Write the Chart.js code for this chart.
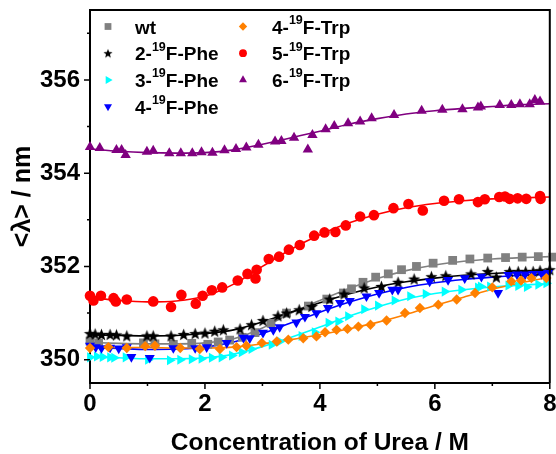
<!DOCTYPE html>
<html>
<head>
<meta charset="utf-8">
<script src="https://cdn.jsdelivr.net/npm/chart.js@4.4.1/dist/chart.umd.min.js"></script>
<style>
  html, body { margin: 0; padding: 0; background: #fff; }
  #wrap { width: 556px; height: 454px; }
</style>
</head>
<body>
<div id="wrap"><canvas id="chart" width="556" height="454"></canvas></div>
<script>
'use strict';

// ── Data ──────────────────────────────────────────────────
const xTicks = [0, 2, 4, 6, 8];
const yTicks = [350, 352, 354, 356];

const wtX = [0, 0.15, 0.93, 1.13, 1.45, 1.77, 2.05, 2.23, 2.43, 2.65, 2.87, 3.15, 3.42, 3.8, 4.12, 4.41, 4.55, 4.75, 4.97, 5.19, 5.42, 5.68, 5.97, 6.31, 6.61, 6.92, 7.23, 7.52, 7.8, 8.05];
const wtY = [350.40, 350.36, 350.36, 350.34, 350.33, 350.35, 350.33, 350.38, 350.42, 350.48, 350.58, 350.78, 351.0, 351.15, 351.30, 351.43, 351.52, 351.66, 351.77, 351.84, 351.93, 352.0, 352.07, 352.13, 352.16, 352.18, 352.19, 352.2, 352.21, 352.2];

const phe2X = [0, 0.09, 0.2, 0.35, 0.46, 0.64, 0.99, 1.1, 1.41, 1.63, 1.83, 2.0, 2.17, 2.32, 2.61, 2.81, 3.01, 3.27, 3.42, 3.64, 3.86, 4.17, 4.42, 4.77, 5.07, 5.36, 5.64, 5.94, 6.19, 6.63, 6.92, 7.07, 7.3, 7.45, 7.58, 7.71, 7.83, 8.0];
const phe2Y = [350.56, 350.55, 350.54, 350.54, 350.53, 350.51, 350.51, 350.51, 350.51, 350.54, 350.56, 350.57, 350.61, 350.64, 350.66, 350.75, 350.84, 350.94, 351.0, 351.07, 351.14, 351.3, 351.41, 351.54, 351.57, 351.66, 351.73, 351.78, 351.8, 351.84, 351.89, 351.77, 351.89, 351.89, 351.89, 351.89, 351.91, 351.93];

const phe3X = [0, 0.12, 0.22, 0.35, 0.42, 0.62, 1.01, 1.39, 1.57, 1.77, 1.94, 2.12, 2.29, 2.47, 2.64, 2.81, 3.16, 3.3, 3.68, 3.91, 4.15, 4.32, 4.49, 4.77, 5.01, 5.3, 5.57, 5.84, 6.17, 6.46, 6.75, 6.8, 6.96, 7.28, 7.45, 7.6, 7.8, 7.94];
const phe3Y = [350.05, 350.07, 350.06, 350.05, 350.04, 350.05, 350.0, 349.99, 350.0, 350.01, 350.02, 350.04, 350.05, 350.09, 350.16, 350.23, 350.32, 350.39, 350.51, 350.59, 350.79, 350.82, 350.93, 351.08, 351.16, 351.27, 351.36, 351.41, 351.46, 351.5, 351.55, 351.57, 351.57, 351.59, 351.58, 351.56, 351.61, 351.64];

const phe4X = [0, 0.1, 0.2, 0.35, 0.5, 0.64, 0.72, 1.04, 1.45, 1.83, 2.03, 2.38, 2.67, 2.78, 3.01, 3.19, 3.3, 3.59, 3.74, 3.94, 4.14, 4.35, 4.52, 4.81, 5.03, 5.26, 5.36, 5.91, 6.23, 6.52, 6.81, 7.1, 7.28, 7.43, 7.57, 7.71, 7.86, 7.97];
const phe4Y = [350.30, 350.27, 350.25, 350.26, 350.24, 350.27, 350.06, 350.04, 350.25, 350.25, 350.27, 350.36, 350.47, 350.46, 350.58, 350.64, 350.7, 350.8, 350.92, 351.0, 351.11, 351.22, 351.26, 351.36, 351.43, 351.5, 351.5, 351.68, 351.71, 351.75, 351.78, 351.43, 351.82, 351.83, 351.83, 351.84, 351.84, 351.86];

const trp4X = [0, 0.32, 0.64, 0.96, 1.13, 1.57, 1.91, 2.26, 2.55, 2.72, 2.99, 3.25, 3.45, 3.71, 3.94, 4.09, 4.29, 4.48, 4.67, 4.88, 5.16, 5.48, 5.74, 6.06, 6.38, 6.7, 7.0, 7.33, 7.5, 7.68, 7.94];
const trp4Y = [350.25, 350.27, 350.25, 350.29, 350.3, 350.25, 350.23, 350.23, 350.27, 350.3, 350.36, 350.39, 350.43, 350.46, 350.5, 350.59, 350.64, 350.66, 350.71, 350.75, 350.84, 351.0, 351.11, 351.18, 351.29, 351.43, 351.55, 351.68, 351.7, 351.75, 351.75];

const trp5X = [0, 0.06, 0.19, 0.41, 0.45, 0.64, 1.1, 1.41, 1.59, 1.84, 1.96, 2.12, 2.3, 2.57, 2.74, 2.88, 2.9, 3.11, 3.29, 3.46, 3.65, 3.9, 4.08, 4.27, 4.45, 4.7, 4.94, 5.28, 5.54, 5.79, 6.16, 6.42, 6.75, 6.87, 7.12, 7.22, 7.3, 7.44, 7.59, 7.83, 7.84];
const trp5Y = [351.37, 351.27, 351.37, 351.32, 351.25, 351.29, 351.25, 351.13, 351.39, 351.2, 351.37, 351.49, 351.55, 351.7, 351.84, 351.74, 351.93, 352.16, 352.21, 352.36, 352.46, 352.66, 352.73, 352.74, 352.88, 353.07, 353.1, 353.25, 353.34, 353.2, 353.41, 353.44, 353.38, 353.44, 353.49, 353.5, 353.45, 353.46, 353.45, 353.51, 353.45];

const trp6X = [0, 0.17, 0.46, 0.55, 0.62, 0.99, 1.1, 1.38, 1.58, 1.78, 1.94, 2.13, 2.34, 2.54, 2.72, 2.93, 3.22, 3.33, 3.55, 3.79, 3.87, 4.1, 4.25, 4.49, 4.7, 4.9, 5.29, 5.77, 6.13, 6.48, 6.75, 6.8, 7.13, 7.33, 7.48, 7.65, 7.74, 7.83];
const trp6Y = [354.56, 354.54, 354.5, 354.5, 354.39, 354.46, 354.48, 354.43, 354.43, 354.43, 354.45, 354.44, 354.49, 354.52, 354.55, 354.61, 354.68, 354.69, 354.76, 354.51, 354.82, 354.94, 355.01, 355.07, 355.11, 355.18, 355.25, 355.34, 355.36, 355.37, 355.41, 355.43, 355.46, 355.46, 355.48, 355.48, 355.57, 355.54];

// fitted curves, read every 0.5 M
const fitX    = [0, 0.5, 1, 1.5, 2, 2.5, 3, 3.5, 4, 4.5, 5, 5.5, 6, 6.5, 7, 7.5, 8];
const wtFit   = [350.37, 350.35, 350.34, 350.34, 350.36, 350.45, 350.68, 351.0, 351.27, 351.52, 351.74, 351.91, 352.03, 352.11, 352.16, 352.19, 352.21];
const phe2Fit = [350.53, 350.52, 350.51, 350.52, 350.56, 350.64, 350.81, 351.02, 351.22, 351.41, 351.56, 351.67, 351.75, 351.81, 351.85, 351.88, 351.9];
const phe3Fit = [350.06, 350.04, 350.02, 350.02, 350.04, 350.12, 350.28, 350.48, 350.7, 350.93, 351.13, 351.3, 351.42, 351.5, 351.56, 351.6, 351.63];
const phe4Fit = [350.26, 350.24, 350.22, 350.23, 350.27, 350.38, 350.56, 350.79, 351.02, 351.23, 351.41, 351.55, 351.65, 351.72, 351.77, 351.81, 351.83];
const trp4Fit = [350.26, 350.26, 350.26, 350.25, 350.25, 350.27, 350.34, 350.43, 350.54, 350.66, 350.8, 350.97, 351.16, 351.34, 351.51, 351.65, 351.77];
const trp5Fit = [351.33, 351.27, 351.24, 351.26, 351.36, 351.62, 352.0, 352.37, 352.68, 352.93, 353.12, 353.26, 353.35, 353.41, 353.45, 353.47, 353.49];
const trp6Fit = [354.52, 354.47, 354.44, 354.43, 354.44, 354.5, 354.62, 354.76, 354.9, 355.05, 355.17, 355.27, 355.34, 355.39, 355.43, 355.47, 355.49];

// ── Style ─────────────────────────────────────────────────
const FONT = "'Liberation Sans', Arial, Helvetica, sans-serif";
const pts = (xs, ys) => xs.map((x, i) => ({ x, y: ys[i] }));

function makeStar(r, color) {
  const c = document.createElement('canvas');
  const s = Math.ceil(r * 2 + 2);
  c.width = s; c.height = s;
  const g = c.getContext('2d');
  g.fillStyle = color;
  g.beginPath();
  for (let i = 0; i < 10; i++) {
    const rr = i % 2 ? r * 0.42 : r;
    const a = -Math.PI / 2 + i * Math.PI / 5;
    g.lineTo(s / 2 + rr * Math.cos(a), s / 2 + 0.5 + rr * Math.sin(a));
  }
  g.closePath();
  g.fill();
  return c;
}

const starBig   = makeStar(6.4, '#000');
const starSmall = makeStar(4.8, '#000');

// name parts: [prefix, superscript, suffix]
const series = [
  { name: ['wt', '', ''],        color: '#808080', xs: wtX,   ys: wtY,   fit: wtFit,   style: 'rect',     rot: 0,   r: 6.2, lr: 4.8, col: 0, row: 0 },
  { name: ['2-', '19', 'F-Phe'], color: '#000000', xs: phe2X, ys: phe2Y, fit: phe2Fit, style: starBig,    rot: 0,   r: 6,   lr: 4.6, col: 0, row: 1, lstyle: starSmall },
  { name: ['3-', '19', 'F-Phe'], color: '#00FFFF', xs: phe3X, ys: phe3Y, fit: phe3Fit, style: 'triangle', rot: 90,  r: 5.8, lr: 4.6, col: 0, row: 2 },
  { name: ['4-', '19', 'F-Phe'], color: '#0000FF', xs: phe4X, ys: phe4Y, fit: phe4Fit, style: 'triangle', rot: 180, r: 5.8, lr: 4.6, col: 0, row: 3 },
  { name: ['4-', '19', 'F-Trp'], color: '#FF8000', xs: trp4X, ys: trp4Y, fit: trp4Fit, style: 'rectRot',  rot: 0,   r: 5.2, lr: 4.2, col: 1, row: 0 },
  { name: ['5-', '19', 'F-Trp'], color: '#FF0000', xs: trp5X, ys: trp5Y, fit: trp5Fit, style: 'circle',   rot: 0,   r: 5.3, lr: 3.9, col: 1, row: 1 },
  { name: ['6-', '19', 'F-Trp'], color: '#800080', xs: trp6X, ys: trp6Y, fit: trp6Fit, style: 'triangle', rot: 0,   r: 6,   lr: 4.6, col: 1, row: 2 }
];

const datasets = [];
series.forEach((s, i) => {
  datasets.push({
    data: pts(fitX, s.fit),
    showLine: true,
    borderColor: s.color,
    borderWidth: 1.6,
    pointRadius: 0,
    cubicInterpolationMode: 'monotone',
    order: 30 - i
  });
  datasets.push({
    data: pts(s.xs, s.ys),
    showLine: false,
    pointStyle: s.style,
    rotation: s.rot,
    pointRadius: s.r,
    backgroundColor: s.color,
    borderColor: s.color,
    borderWidth: 0,
    clip: false,
    order: 10 - i
  });
});

// ── Plugins: frame, tick marks, legend ────────────────────
const framePlugin = {
  id: 'frame',
  afterDraw(chart) {
    const { ctx, chartArea: a, scales: { x, y } } = chart;
    ctx.save();
    ctx.strokeStyle = '#000';
    ctx.lineWidth = 2;
    ctx.beginPath();
    ctx.moveTo(a.left, a.top); ctx.lineTo(a.right, a.top); ctx.lineTo(a.right, a.bottom);
    ctx.stroke();
    ctx.lineWidth = 1.5;
    ctx.beginPath();
    for (let v = 0; v <= 8; v++) {
      const px = x.getPixelForValue(v);
      ctx.moveTo(px, a.bottom); ctx.lineTo(px, a.bottom + (v % 2 ? 3 : 6));
    }
    for (let v = 350; v <= 357; v++) {
      const py = y.getPixelForValue(v);
      ctx.moveTo(a.left, py); ctx.lineTo(a.left - (v % 2 ? 3 : 6), py);
    }
    ctx.stroke();
    ctx.restore();
  }
};

const legendPlugin = {
  id: 'supLegend',
  afterDraw(chart) {
    const ctx = chart.ctx;
    const colX = [[108, 135], [243, 272]];
    ctx.save();
    ctx.textBaseline = 'alphabetic';
    series.forEach(s => {
      const base = 33.5 + s.row * 26.7;
      const [mx, tx] = colX[s.col];
      ctx.fillStyle = s.color;
      ctx.strokeStyle = s.color;
      Chart.helpers.drawPoint(ctx, {
        pointStyle: s.lstyle || s.style, rotation: s.rot, radius: s.lr, borderWidth: 0
      }, mx, base - 7);
      ctx.fillStyle = '#000';
      let cx = tx;
      ctx.font = 'bold 19px ' + FONT;
      ctx.fillText(s.name[0], cx, base);
      cx += ctx.measureText(s.name[0]).width;
      if (s.name[1]) {
        ctx.font = 'bold 12.5px ' + FONT;
        ctx.fillText(s.name[1], cx, base - 9.5);
        cx += ctx.measureText(s.name[1]).width;
        ctx.font = 'bold 19px ' + FONT;
        ctx.fillText(s.name[2], cx, base);
      }
    });
    ctx.restore();
  }
};

// ── Chart ─────────────────────────────────────────────────
new Chart(document.getElementById('chart'), {
  type: 'scatter',
  data: { datasets },
  options: {
    responsive: false,
    animation: false,
    layout: { padding: { left: 0, right: 6, top: 10, bottom: 0 } },
    plugins: { legend: { display: false }, tooltip: { enabled: false } },
    scales: {
      x: {
        type: 'linear',
        min: 0, max: 8,
        afterBuildTicks: s => { s.ticks = xTicks.map(v => ({ value: v })); },
        afterFit: s => { s.height = 71; s.paddingLeft = 0; s.paddingRight = 0; },
        grid: { drawOnChartArea: false, drawTicks: true, tickLength: 6, tickColor: 'rgba(0,0,0,0)' },
        border: { color: '#000', width: 2 },
        ticks: { color: '#000', padding: 1, maxRotation: 0, font: { family: FONT, size: 24, weight: 'bold' } },
        title: {
          display: true, text: 'Concentration of Urea / M', color: '#000',
          font: { family: FONT, size: 24.5, weight: 'bold', lineHeight: 0.9 },
          padding: { top: 0, bottom: 0 }
        }
      },
      y: {
        type: 'linear',
        min: 349.5, max: 357.5,
        afterBuildTicks: s => { s.ticks = yTicks.map(v => ({ value: v })); },
        afterFit: s => { s.width = 90; s.paddingTop = 0; s.paddingBottom = 0; },
        grid: { drawOnChartArea: false, drawTicks: true, tickLength: 6, tickColor: 'rgba(0,0,0,0)' },
        border: { color: '#000', width: 2 },
        ticks: { color: '#000', padding: 4, font: { family: FONT, size: 24, weight: 'bold' } },
        title: {
          display: true, text: '<λ> / nm', color: '#000',
          font: { family: FONT, size: 25, weight: 'bold', lineHeight: 1 },
          padding: { top: 10.5, bottom: 0 }
        }
      }
    }
  },
  plugins: [framePlugin, legendPlugin]
});
</script>
</body>
</html>
